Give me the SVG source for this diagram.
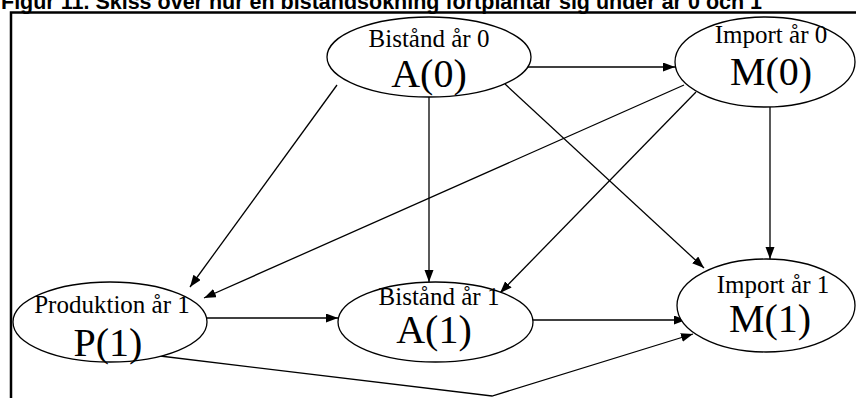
<svg xmlns="http://www.w3.org/2000/svg" width="856" height="398" viewBox="0 0 856 398">
<style>
.node ellipse{fill:#fff;stroke:#000;stroke-width:1.3}
.sm{font-family:"Liberation Serif","Times New Roman",serif;font-size:25px;text-anchor:middle;fill:#000}
.bg{font-family:"Liberation Serif","Times New Roman",serif;font-size:40px;text-anchor:middle;fill:#000}
.edge{fill:none;stroke:#000;stroke-width:1.3;marker-end:url(#ah)}
.title{font-family:"Liberation Sans",Arial,sans-serif;font-weight:bold;font-size:21.5px;fill:#000}
</style>
<defs>
<marker id="ah" markerUnits="userSpaceOnUse" markerWidth="13" markerHeight="10" refX="12" refY="4.5" orient="auto">
<path d="M0,0 L12,4.5 L0,9 z" fill="#000"/>
</marker>
</defs>
<rect width="856" height="398" fill="#fff"/>
<text class="title" x="1" y="8.5">Figur 11. Skiss över hur en biståndsökning fortplantar sig under år 0 och 1</text>
<path d="M11,398 L11,12.5 L856,12.5" fill="none" stroke="#000" stroke-width="2.5"/>
<g id="connectors">
<path class="edge" d="M528,67 L675,67"/>
<path class="edge" d="M337,85 L190,287"/>
<path class="edge" d="M684,85 L204,298"/>
<path class="edge" d="M429,97 L429,282"/>
<path class="edge" d="M696,92 L500,293"/>
<path class="edge" d="M505,84 L704,268"/>
<path class="edge" d="M770,107 L770,259"/>
<path class="edge" d="M207,318 L338,318"/>
<path class="edge" d="M533,320 L686,320"/>
<path class="edge" d="M160,356 L492,396 L693,334"/>
</g>
<g id="A0" class="node">
<ellipse cx="429" cy="57" rx="102" ry="40"/>
<text class="sm" x="429" y="47">Bistånd år 0</text>
<text class="bg" x="429" y="87">A(0)</text>
</g>
<g id="M0" class="node">
<ellipse cx="765" cy="62" rx="90" ry="45"/>
<text class="sm" x="771" y="43">Import år 0</text>
<text class="bg" x="771" y="85">M(0)</text>
</g>
<g id="P1" class="node">
<ellipse cx="110" cy="322" rx="97" ry="40"/>
<text class="sm" x="112" y="313">Produktion år 1</text>
<text class="bg" x="108" y="356">P(1)</text>
</g>
<g id="A1" class="node">
<ellipse cx="435.5" cy="322" rx="97.5" ry="40"/>
<text class="sm" x="439" y="305">Bistånd år 1</text>
<text class="bg" x="434" y="343">A(1)</text>
</g>
<g id="M1" class="node">
<ellipse cx="766" cy="305.5" rx="89" ry="46.5"/>
<text class="sm" x="773" y="293">Import år 1</text>
<text class="bg" x="770" y="332">M(1)</text>
</g>
</svg>
